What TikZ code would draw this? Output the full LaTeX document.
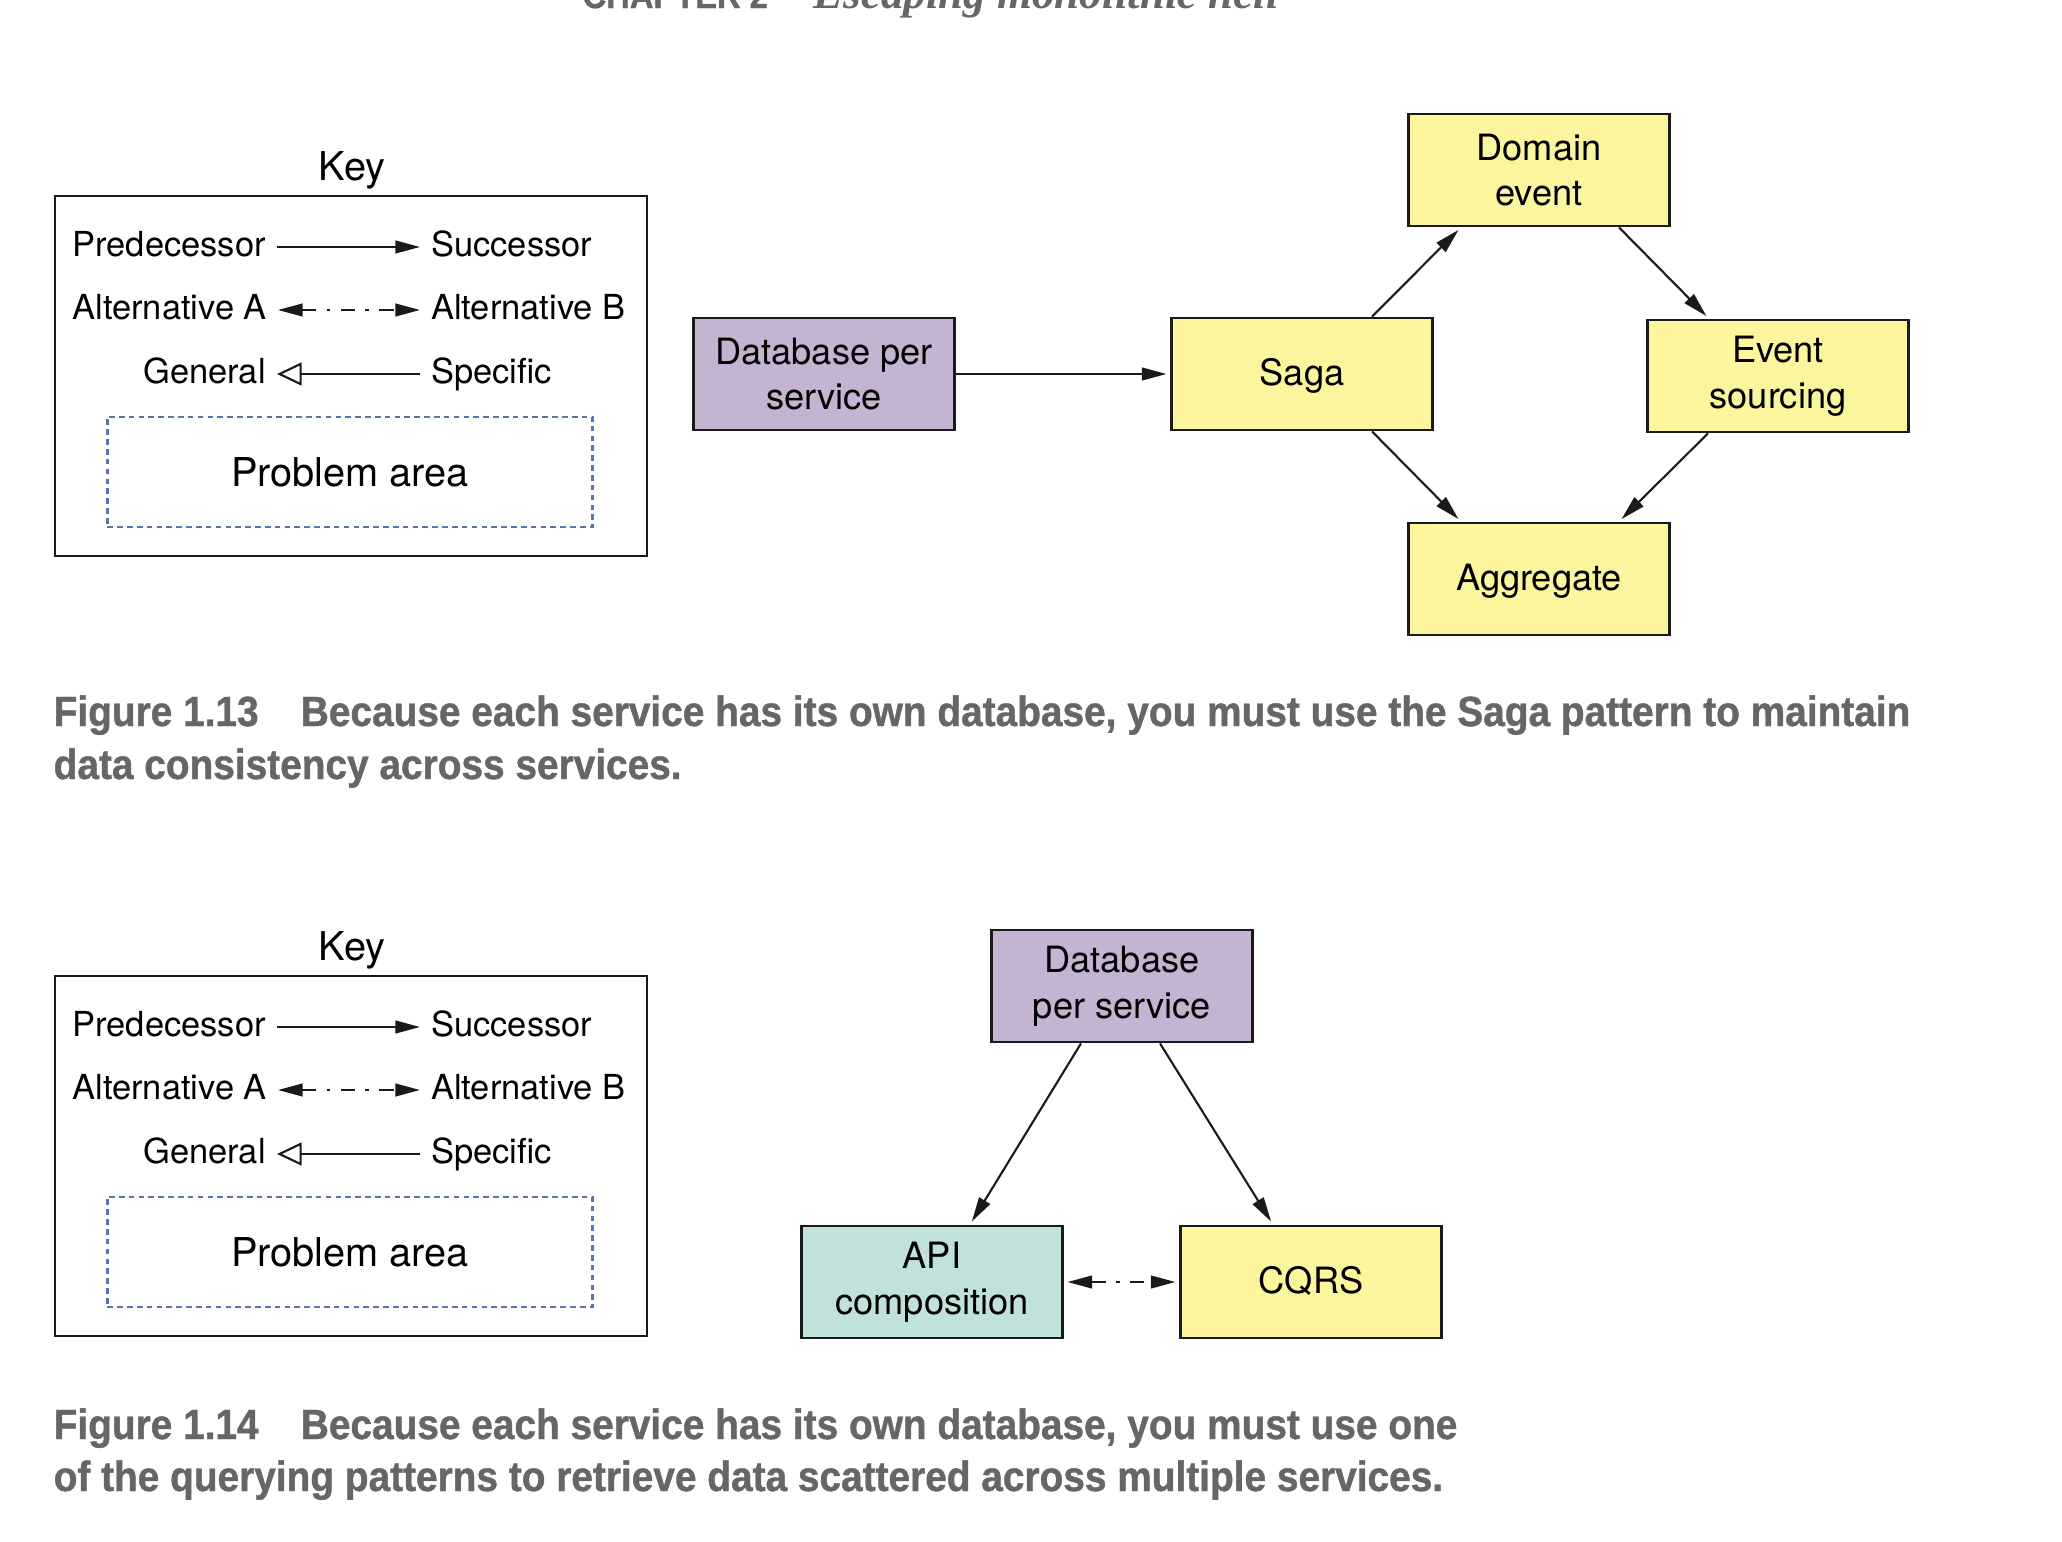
\documentclass[tikz,border=0pt]{standalone}
\usepackage{fontspec}
\setmainfont{TeX Gyre Heros}
\newfontfamily\capfont{Liberation Sans}[FakeStretch=0.92,FakeBold=1]
\newfontfamily\headserif{Liberation Serif}
\usetikzlibrary{arrows.meta,positioning}
\definecolor{ink}{HTML}{1A1A1A}
\definecolor{pale}{HTML}{FBF59E}
\definecolor{lilac}{HTML}{C5B4D1}
\definecolor{mint}{HTML}{C0E2DB}
\definecolor{slate}{HTML}{5B73B3}
\definecolor{capgray}{HTML}{666666}
\tikzset{>={Triangle[length=7pt,width=3.6pt]},box/.style={draw=ink,line width=.8pt,minimum width=2.61cm,minimum height=1.12cm,inner sep=2pt,align=center,font=\fontsize{10.3}{13}\selectfont},oneline/.style={text height=8.6pt,text depth=2pt},patbox/.style={box,fill=pale},dbbox/.style={box,fill=lilac},apibox/.style={box,fill=mint},arr/.style={->,line width=.6pt,ink,shorten >=1pt},altarr/.style={<->,line width=.6pt,ink,dash pattern=on 4pt off 3pt on 1pt off 3pt},genarr/.style={-{Triangle[open,length=7pt,width=6.5pt,fill=white]},line width=.6pt,ink},keytext/.style={font=\fontsize{9.8}{12}\selectfont,inner sep=3pt,text height=7.3pt,text depth=2pt},keytitle/.style={font=\fontsize{11.3}{13}\selectfont},keyframe/.style={draw=ink,line width=.7pt,minimum width=5.92cm,minimum height=3.6cm},probarea/.style={draw=slate,line width=.7pt,dash pattern=on 1.6pt off 1.2pt,minimum width=4.85cm,minimum height=1.1cm,font=\fontsize{11.3}{13}\selectfont},captext/.style={text=capgray,font=\capfont\bfseries\fontsize{12}{15}\selectfont,inner sep=0pt}}
\begin{document}
\begin{tikzpicture}[x=.01cm,y=-.01cm]
\useasboundingbox (0,0) rectangle (2062,1542);
\node[text=capgray,anchor=base west,inner sep=0pt] (chap) at (582,8) {{\capfont\bfseries\fontsize{10.1}{13}\selectfont CHAPTER 2}\hspace{13pt}{\headserif\itshape\bfseries\fontsize{12.8}{14}\selectfont Escaping monolithic hell}};
\foreach \k/\dy in {a/0,b/780}{
\node[keytitle] (key\k) at (352,170+\dy) {Key};
\node[keyframe] (frame\k) at (351,376+\dy) {};
\node[keytext,anchor=east] (pred\k) at (277,247+\dy) {Predecessor};
\node[keytext,anchor=west] (succ\k) at (420,247+\dy) {Successor};
\node[keytext,anchor=east] (alta\k) at (278,310+\dy) {Alternative A};
\node[keytext,anchor=west] (altb\k) at (420,310+\dy) {Alternative B};
\node[keytext,anchor=east] (gen\k) at (277,374+\dy) {General};
\node[keytext,anchor=west] (spec\k) at (420,374+\dy) {Specific};
\node[probarea] (prob\k) at (350,472+\dy) {Problem area};
\draw[arr,shorten >=0pt] (pred\k) -- (succ\k);
\draw[altarr] (alta\k) -- (altb\k);
\draw[genarr] (spec\k) -- (gen\k);
}
\node[dbbox] (dbsa) at (824,374) {Database per\\service};
\node[patbox,oneline] (saga) at (1302,374) {Saga};
\node[patbox] (evsrc) at (1778,376) {Event\\sourcing};
\node[patbox] (domev) at (1539,170) {Domain\\event};
\node[patbox,oneline] (aggr) at (1539,579) {Aggregate};
\draw[arr] (dbsa) -- (saga);
\draw[arr] ([xshift=7mm]saga.north) -- ([xshift=-7.8mm]domev.south);
\draw[arr] ([xshift=8mm]domev.south) -- ([xshift=-6.9mm]evsrc.north);
\draw[arr] ([xshift=7mm]saga.south) -- ([xshift=-7.8mm]aggr.north);
\draw[arr] ([xshift=-7mm]evsrc.south) -- ([xshift=8mm]aggr.north);
\node[captext,anchor=base west] (capa) at (53,726) {Figure 1.13\hspace{1em}Because each service has its own database, you must use the Saga pattern to maintain};
\node[captext,anchor=base west] (capb) at (53,779) {data consistency across services.};
\node[dbbox] (dbsb) at (1122,986) {Database\\per service};
\node[apibox] (apic) at (932,1282) {API\\composition};
\node[patbox,oneline] (cqrs) at (1311,1282) {CQRS};
\draw[arr] ([xshift=-4.1mm]dbsb.south) -- ([xshift=3.8mm]apic.north);
\draw[arr] ([xshift=3.8mm]dbsb.south) -- ([xshift=-3.8mm]cqrs.north);
\draw[altarr,shorten <=1pt,shorten >=1pt] (apic) -- (cqrs);
\node[captext,anchor=base west] (capc) at (53,1439) {Figure 1.14\hspace{1em}Because each service has its own database, you must use one};
\node[captext,anchor=base west] (capd) at (53,1491) {of the querying patterns to retrieve data scattered across multiple services.};
\end{tikzpicture}
\end{document}
